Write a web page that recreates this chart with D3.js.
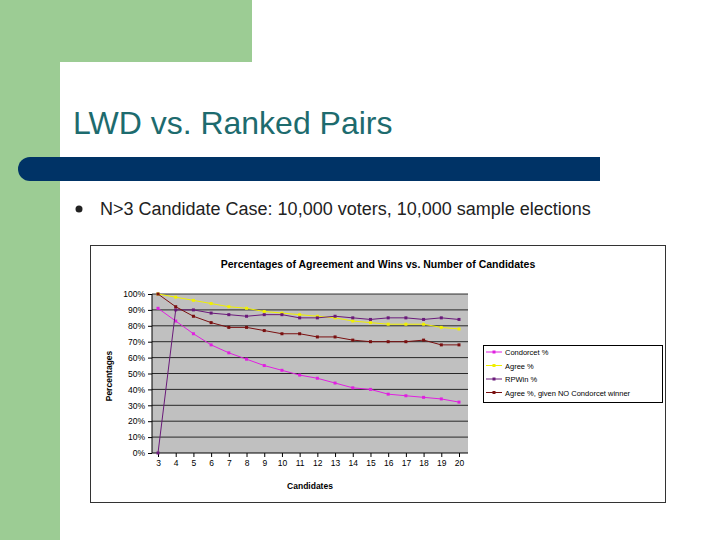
<!DOCTYPE html><html><head><meta charset="utf-8"><script src="https://cdn.jsdelivr.net/npm/d3@7"></script>
<style>body{margin:0}svg{display:block}</style></head><body><svg id="c" width="720" height="540"></svg>
<script>
const categories=[3,4,5,6,7,8,9,10,11,12,13,14,15,16,17,18,19,20];
const condorcet=[91,83,75,68,63,59,55,52,49,47,44,41,40,37,36,35,34,32];
const agree=[100,98,96,94,92,91,89,88,87,86,85,83,82,81,81,81,79,78];
const rpwin=[0,90,90,88,87,86,87,87,85,85,86,85,84,85,85,84,85,84];
const agreeNoCW=[100,92,86,82,79,79,77,75,75,73,73,71,70,70,70,71,68,68];
const yTicks=[0,10,20,30,40,50,60,70,80,90,100];
const series=[
 {name:"Condorcet %",v:condorcet,c:"#e020e0"},
 {name:"Agree %",v:agree,c:"#f0f000"},
 {name:"RPWin %",v:rpwin,c:"#6a1a7a"},
 {name:"Agree %, given NO Condorcet winner",v:agreeNoCW,c:"#7a1010"}];
const svg=d3.select("#c");
svg.append("rect").attr("width",720).attr("height",540).attr("fill","#fff");
svg.append("rect").attr("x",0).attr("y",0).attr("width",252).attr("height",62).attr("fill","#9ccc94");
svg.append("rect").attr("x",0).attr("y",0).attr("width",60).attr("height",540).attr("fill","#9ccc94");
svg.append("path").attr("d","M60,540 V85 Q60,62 83,62 H252 V540 Z").attr("fill","#fff");
svg.append("rect").attr("x",252).attr("y",62).attr("width",468).attr("height",478).attr("fill","#fff");
svg.append("text").attr("x",73).attr("y",134).attr("font-family","Liberation Sans, Arial").attr("font-size",32).attr("fill","#1d6b6e").text("LWD vs. Ranked Pairs");
svg.append("path").attr("d","M30,157 H600 V181 H30 A12,12 0 0 1 30,157 Z").attr("fill","#003366");
svg.append("circle").attr("cx",79).attr("cy",209).attr("r",3.5).attr("fill","#222");
svg.append("text").attr("x",100).attr("y",215).attr("font-family","Liberation Sans, Arial").attr("font-size",18).attr("fill","#222").text("N>3 Candidate Case: 10,000 voters, 10,000 sample elections");
svg.append("rect").attr("x",90.5).attr("y",245.5).attr("width",575).attr("height",257).attr("fill","#fff").attr("stroke","#333");
svg.append("text").attr("x",378).attr("y",268).attr("text-anchor","middle").attr("font-family","Liberation Sans, Arial").attr("font-weight","bold").attr("font-size",10.5).text("Percentages of Agreement and Wins vs. Number of Candidates");
const L=152,R=468,T=294,B=453;
svg.append("rect").attr("x",L).attr("y",T).attr("width",R-L).attr("height",B-T).attr("fill","#c0c0c0");
const x=d3.scalePoint().domain(categories).range([158,459]);
const y=d3.scaleLinear().domain([0,100]).range([B,T]);
const g=svg.append("g").attr("font-family","Liberation Sans, Arial").attr("font-size",8.5);
yTicks.forEach(t=>{ if(t>0) g.append("line").attr("x1",L).attr("x2",R).attr("y1",y(t)).attr("y2",y(t)).attr("stroke","#000").attr("stroke-width",0.8);});
svg.append("g").attr("transform",`translate(${L},0)`).call(d3.axisLeft(y).tickValues(yTicks).tickFormat(d=>d+"%").tickSize(4)).call(a=>{a.select(".domain").remove();a.selectAll("text").attr("font-size",8.5).attr("font-family","Liberation Sans, Arial");});
svg.append("line").attr("x1",L).attr("x2",L).attr("y1",T).attr("y2",B).attr("stroke","#000");
svg.append("g").attr("transform",`translate(0,${B})`).call(d3.axisBottom(x).tickSize(4)).call(a=>{a.select(".domain").attr("d",`M${L},0H${R}`);a.selectAll("text").attr("font-size",8.5).attr("font-family","Liberation Sans, Arial");});
svg.append("text").attr("x",310).attr("y",489).attr("text-anchor","middle").attr("font-family","Liberation Sans, Arial").attr("font-weight","bold").attr("font-size",8.5).text("Candidates");
svg.append("text").attr("transform","translate(112,376) rotate(-90)").attr("text-anchor","middle").attr("font-family","Liberation Sans, Arial").attr("font-weight","bold").attr("font-size",8.5).text("Percentages");
const line=d3.line().x((d,i)=>x(categories[i])).y(d=>y(d));
series.forEach(s=>{
 svg.append("path").attr("d",line(s.v)).attr("fill","none").attr("stroke",s.c).attr("stroke-width",1);
 svg.selectAll(null).data(s.v).enter().append("rect").attr("x",(d,i)=>x(categories[i])-1.5).attr("y",d=>y(d)-1.5).attr("width",3).attr("height",3).attr("fill",s.c);
});
svg.append("rect").attr("x",483.5).attr("y",345.5).attr("width",179).attr("height",57).attr("fill","#fff").attr("stroke","#000");
series.forEach((s,i)=>{const yy=352+i*13.5;
 svg.append("line").attr("x1",486).attr("x2",502).attr("y1",yy).attr("y2",yy).attr("stroke",s.c);
 svg.append("rect").attr("x",492.5).attr("y",yy-1.5).attr("width",3).attr("height",3).attr("fill",s.c);
 svg.append("text").attr("x",505).attr("y",yy+3).attr("font-family","Liberation Sans, Arial").attr("font-size",7.5).text(s.name);});
</script></body></html>
